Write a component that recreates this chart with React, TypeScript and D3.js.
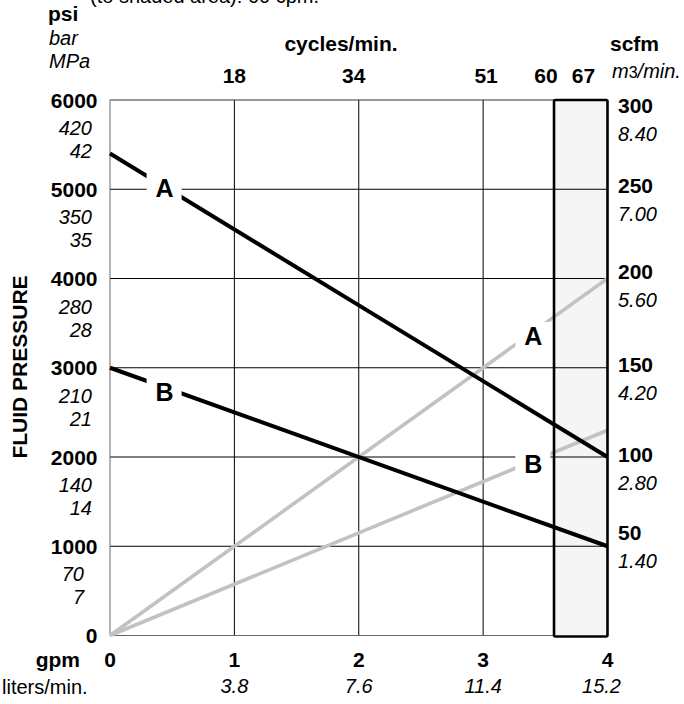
import React from "react";
import * as d3 from "d3";

// ---- data ----
const gpmTicks = [0, 1, 2, 3, 4];
const litersLabels = ["", "3.8", "7.6", "11.4", "15.2"];
const psiTicks = [0, 1000, 2000, 3000, 4000, 5000, 6000];
const barLabels = ["", "70", "140", "210", "280", "350", "420"];
const mpaLabels = ["", "7", "14", "21", "28", "35", "42"];
const scfmTicks = [300, 250, 200, 150, 100, 50];
const m3Labels = ["8.40", "7.00", "5.60", "4.20", "2.80", "1.40"];
const cycleLabels = ["18", "34", "51", "60", "67"];
const cycleAtGpm = [1, 2, 3, 3.57, 4];
const shadedFromGpm = 3.57;

const flowGpm = [0, 4];
const pressureA = [5400, 2000];
const pressureB = [3000, 1000];
const airA = [0, 200];
const airB = [0, 115];

// ---- layout ----
const W = 684;
const H = 704;
const FONT = "'Liberation Sans', Arial, Helvetica, sans-serif";
const BF = 21; // bold font size
const IF = 20; // italic / regular font size
const cycleDx = [0, -5, 3, -8, -24];
const scfmDy = [13, 4, 0, 4, 5, -6];

export default function App() {
  const x = d3.scaleLinear().domain([0, 4]).range([110, 607.5]);
  const y = d3.scaleLinear().domain([0, 6000]).range([635.5, 100]);
  const yAir = d3.scaleLinear().domain([0, 300]).range([635.5, 100]);

  const lineP = d3
    .line<number>()
    .x((_, i) => x(flowGpm[i]))
    .y((d) => y(d));
  const lineA = d3
    .line<number>()
    .x((_, i) => x(flowGpm[i]))
    .y((d) => yAir(d));

  const interp = (arr: number[], g: number) =>
    arr[0] + ((arr[1] - arr[0]) * (g - flowGpm[0])) / (flowGpm[1] - flowGpm[0]);

  const labels = [
    { t: "A", gx: 0.435, yy: y(interp(pressureA, 0.435)), dy: 1 },
    { t: "B", gx: 0.435, yy: y(interp(pressureB, 0.435)), dy: 5 },
    { t: "A", gx: 3.4, yy: yAir(interp(airA, 3.4)), dy: 4 },
    { t: "B", gx: 3.4, yy: yAir(interp(airB, 3.4)), dy: 3 },
  ];

  const x0 = x(0);
  const x4 = x(4);
  const xs = x(shadedFromGpm);

  return (
    <svg
      width={W}
      height={H}
      style={{ position: "absolute", left: 0, top: 0, background: "#fff" }}
      fontFamily={FONT}
    >
      {/* title fragment (clipped at top in the reference) */}
      <text x={90} y={3} fontSize={IF} fill="#000">
        (to shaded area): 60 cpm.
      </text>

      {/* shaded region */}
      <rect x={xs} y={y(6000)} width={x4 - xs} height={y(0) - y(6000) + 1} fill="#f5f5f5" />

      {/* horizontal gridlines */}
      {psiTicks
        .filter((p) => p > 0 && p < 6000)
        .map((p) => (
          <line key={"h" + p} x1={x0} x2={x4} y1={y(p)} y2={y(p)} stroke="#000" strokeWidth={1} />
        ))}
      {/* vertical gridlines */}
      {gpmTicks
        .filter((g) => g > 0 && g < 4)
        .map((g) => (
          <line key={"v" + g} x1={x(g)} x2={x(g)} y1={y(6000)} y2={y(0)} stroke="#000" strokeWidth={1} />
        ))}
      {/* frame */}
      <line x1={x0} x2={xs} y1={y(6000)} y2={y(6000)} stroke="#333" strokeWidth={1} />
      <line x1={x0} x2={x0} y1={y(6000)} y2={y(0)} stroke="#666" strokeWidth={1} />
      <line x1={x0} x2={xs} y1={y(0)} y2={y(0)} stroke="#666" strokeWidth={1} />

      {/* air consumption lines */}
      <path d={lineA(airA) || ""} fill="none" stroke="#c2c2c2" strokeWidth={3.6} />
      <path d={lineA(airB) || ""} fill="none" stroke="#c2c2c2" strokeWidth={3.6} />
      {/* pressure lines */}
      <path d={lineP(pressureA) || ""} fill="none" stroke="#000" strokeWidth={4} />
      <path d={lineP(pressureB) || ""} fill="none" stroke="#000" strokeWidth={4} />

      {/* shaded frame */}
      <rect
        x={xs}
        y={y(6000)}
        width={x4 - xs}
        height={y(0) - y(6000) + 1}
        fill="none"
        stroke="#000"
        strokeWidth={2.6}
        rx={1.5}
      />

      {/* line labels */}
      {labels.map((l, i) => (
        <g key={"lab" + i}>
          <rect x={x(l.gx) - 17.5} y={l.yy + l.dy - 14} width={35} height={28} fill="#fff" />
          <text
            x={x(l.gx) + 0.5}
            y={l.yy + l.dy + 9}
            fontSize={25}
            fontWeight="bold"
            textAnchor="middle"
          >
            {l.t}
          </text>
        </g>
      ))}

      {/* left axis header */}
      <text x={48} y={21} fontSize={BF} fontWeight="bold">psi</text>
      <text x={49} y={45} fontSize={IF} fontStyle="italic">bar</text>
      <text x={49} y={68} fontSize={IF} fontStyle="italic">MPa</text>
      <text
        transform={`translate(27, 367) rotate(-90)`}
        fontSize={BF}
        fontWeight="bold"
        textAnchor="middle"
      >
        FLUID PRESSURE
      </text>

      {/* left axis ticks */}
      {psiTicks.map((p, i) => (
        <g key={"psi" + p}>
          <text x={97.5} y={y(p) + 7.5} fontSize={BF} fontWeight="bold" textAnchor="end">
            {p}
          </text>
          {barLabels[i] && (
            <text x={p === 1000 ? 84 : 92} y={y(p) + 35} fontSize={IF} fontStyle="italic" textAnchor="end">
              {barLabels[i]}
            </text>
          )}
          {mpaLabels[i] && (
            <text x={p === 1000 ? 84 : 92} y={y(p) + 58} fontSize={IF} fontStyle="italic" textAnchor="end">
              {mpaLabels[i]}
            </text>
          )}
        </g>
      ))}

      {/* right axis header */}
      <text x={610} y={51} fontSize={BF} fontWeight="bold">scfm</text>
      <text x={612} y={78} fontSize={IF} fontStyle="italic">
        m<tspan fontSize={16} fontStyle="normal">3</tspan>/min.
      </text>

      {/* right axis ticks */}
      {scfmTicks.map((s, i) => (
        <g key={"scfm" + s}>
          <text x={618} y={yAir(s) + scfmDy[i]} fontSize={BF} fontWeight="bold">
            {s}
          </text>
          <text x={618} y={yAir(s) + scfmDy[i] + 28} fontSize={IF} fontStyle="italic">
            {m3Labels[i]}
          </text>
        </g>
      ))}

      {/* top axis */}
      <text x={341} y={51} fontSize={BF} fontWeight="bold" textAnchor="middle">
        cycles/min.
      </text>
      {cycleLabels.map((c, i) => (
        <text
          key={"cy" + c}
          x={x(cycleAtGpm[i]) + cycleDx[i]}
          y={83}
          fontSize={BF}
          fontWeight="bold"
          textAnchor="middle"
        >
          {c}
        </text>
      ))}

      {/* bottom axis */}
      <text x={80} y={667} fontSize={BF} fontWeight="bold" textAnchor="end">gpm</text>
      <text x={2} y={694} fontSize={IF}>liters/min.</text>
      {gpmTicks.map((g, i) => (
        <g key={"g" + g}>
          <text x={x(g)} y={667} fontSize={BF} fontWeight="bold" textAnchor="middle">
            {g}
          </text>
          {litersLabels[i] && (
            <text
              x={x(g) + (g === 4 ? -6 : 0)}
              y={693}
              fontSize={IF}
              fontStyle="italic"
              textAnchor="middle"
            >
              {litersLabels[i]}
            </text>
          )}
        </g>
      ))}
    </svg>
  );
}
